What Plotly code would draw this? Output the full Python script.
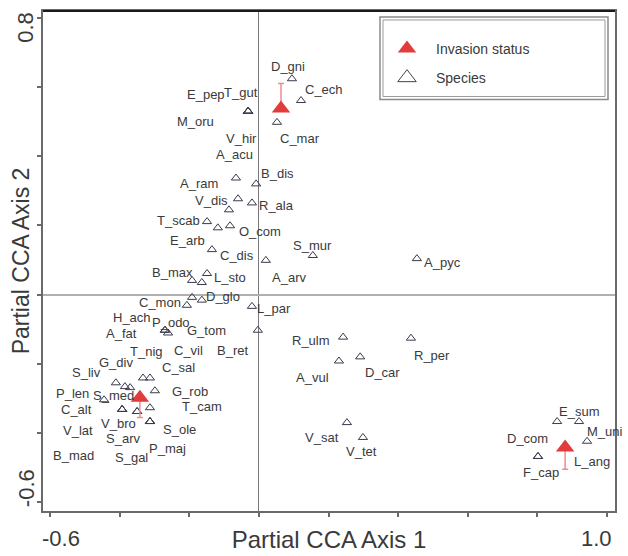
import plotly.graph_objects as go

# ---------------- data ----------------
species = ["D_gni", "C_ech", "T_gut", "E_pep", "M_oru", "C_mar", "V_hir", "A_acu", "B_dis", "A_ram",
           "V_dis", "R_ala", "T_scab", "O_com", "E_arb", "C_dis", "S_mur", "A_arv", "B_max", "L_sto",
           "G_tom", "D_glo", "C_mon", "C_vil", "A_pyc", "L_par", "B_ret", "R_ulm", "R_per", "A_vul",
           "D_car", "V_sat", "V_tet", "P_odo", "H_ach", "A_fat", "T_nig", "C_sal", "G_div", "S_liv",
           "P_len", "S_med", "G_rob", "T_cam", "C_alt", "V_bro", "V_lat", "S_arv", "S_ole", "P_maj",
           "B_mad", "S_gal", "E_sum", "M_uni", "L_ang", "D_com", "F_cap"]
species_x = [0.095, 0.121, -0.031, -0.031, -0.031, 0.052, -0.031, -0.066, -0.008, -0.060,
             -0.086, -0.020, -0.149, -0.083, -0.118, -0.135, 0.155, 0.020, -0.192, -0.149,
             -0.164, -0.164, -0.207, -0.192, 0.454, -0.020, -0.003, 0.242, 0.437, 0.230,
             0.291, 0.253, 0.299, -0.270, -0.261, -0.270, -0.333, -0.313, -0.411, -0.385,
             -0.445, -0.370, -0.299, -0.313, -0.393, -0.350, -0.393, -0.350, -0.313, -0.313,
             -0.393, -0.313, 0.857, 0.920, 0.943, 0.802, 0.802]
species_y = [0.624, 0.561, 0.530, 0.530, 0.530, 0.498, 0.530, 0.337, 0.320, 0.277,
             0.245, 0.265, 0.211, 0.199, 0.193, 0.130, 0.113, 0.099, 0.041, 0.061,
             0.035, -0.016, -0.031, -0.008, 0.104, -0.034, -0.103, -0.123, -0.126, -0.192,
             -0.180, -0.370, -0.413, -0.103, -0.111, -0.103, -0.241, -0.241, -0.255, -0.266,
             -0.304, -0.269, -0.278, -0.327, -0.332, -0.338, -0.332, -0.338, -0.367, -0.367,
             -0.332, -0.367, -0.367, -0.367, -0.424, -0.468, -0.468]

status_x = [0.0635, -0.342, 0.880]
status_y = [0.538, -0.298, -0.442]
status_err_plus = [0.072, 0.0, 0.0]
status_err_minus = [0.0, 0.057, 0.063]

x_ticks = [-0.6, -0.4, -0.2, 0.0, 0.2, 0.4, 0.6, 0.8, 1.0]
y_ticks = [-0.6, -0.4, -0.2, 0.0, 0.2, 0.4, 0.6, 0.8]
x_tick_labels = {-0.6: "-0.6", 1.0: "1.0"}
y_tick_labels = {-0.6: "-0.6", 0.8: "0.8"}

# ---------------- style ----------------
FONT = "Liberation Sans, Arial, sans-serif"
TEXT = "#3a3a3a"
RED = "#e23b3b"
TRI = "#3a3a4c"

# label offsets in pixels (dx right, dy down) relative to each species point
label_offsets = {
    "D_gni": (-4, -12), "C_ech": (23, -11), "T_gut": (-7, -19), "E_pep": (-42, -17),
    "M_oru": (-53, 10), "C_mar": (23, 16), "V_hir": (-7, 27), "A_acu": (-1, -24),
    "B_dis": (21, -10), "A_ram": (-39, -15), "V_dis": (-17, -9), "R_ala": (25, 3),
    "T_scab": (-29, -1), "O_com": (30, 6), "E_arb": (-30, 13), "C_dis": (25, 6),
    "S_mur": (0, -10), "A_arv": (23, 17), "B_max": (-20, -8), "L_sto": (23, 4),
    "G_tom": (5, 48), "D_glo": (21, -4), "C_mon": (-27, -3), "C_vil": (-4, 53),
    "A_pyc": (26, 4), "L_par": (22, 2), "B_ret": (-25, 20), "R_ulm": (-32, 3),
    "R_per": (21, 17), "A_vul": (-26, 16), "D_car": (22, 16), "V_sat": (-25, 15),
    "V_tet": (-1, 14), "P_odo": (6, -8), "H_ach": (-36, -15), "A_fat": (-43, 3),
    "T_nig": (3, -26), "C_sal": (29, -10), "G_div": (0, -20), "S_liv": (-38, -14),
    "P_len": (-32, -6), "S_med": (-17, 8), "G_rob": (35, 1), "T_cam": (52, -1),
    "C_alt": (-46, 0), "V_bro": (-19, 12), "V_lat": (-44, 21), "S_arv": (-14, 27),
    "S_ole": (30, 8), "P_maj": (18, 27), "B_mad": (-49, 46), "S_gal": (-18, 36),
    "E_sum": (22, -10), "M_uni": (26, 10), "L_ang": (5, 20), "D_com": (-10, -18),
    "F_cap": (3, 16),
}

fig = go.Figure()

# species points
fig.add_trace(go.Scatter(
    x=species_x, y=species_y, mode="markers", name="Species", showlegend=False,
    text=species, hoverinfo="text",
    marker=dict(symbol="triangle-up-open", size=8, color=TRI, line=dict(width=1, color=TRI)),
))

# invasion status centroids
fig.add_trace(go.Scatter(
    x=status_x, y=status_y, mode="markers", name="Invasion status",
    legendgroup="a",
    marker=dict(symbol="triangle-up", size=16, color=RED, line=dict(width=0)),
    error_y=dict(type="data", symmetric=False, array=status_err_plus,
                 arrayminus=status_err_minus, color="#f08c8c", thickness=1.5, width=3),
))

# legend proxy for species (bigger symbol in legend)
fig.add_trace(go.Scatter(
    x=[None], y=[None], mode="markers", name="Species", legendgroup="b",
    marker=dict(symbol="triangle-up-open", size=16, color="#444", line=dict(width=1, color="#444")),
))

annotations = []
for name, sx, sy in zip(species, species_x, species_y):
    dx, dy = label_offsets[name]
    annotations.append(dict(
        x=sx, y=sy, xref="x", yref="y", text=name, showarrow=False,
        xshift=dx, yshift=-dy, xanchor="center", yanchor="middle",
        font=dict(family=FONT, size=13, color=TEXT),
    ))

# axis end labels (placed inward like the original)
tick_font = dict(family=FONT, size=22, color=TEXT)
annotations.append(dict(x=-0.6, y=0, xref="x", yref="paper", text=x_tick_labels[-0.6],
                        showarrow=False, xanchor="center", yanchor="middle",
                        xshift=11, yshift=-27, font=tick_font))
annotations.append(dict(x=1.0, y=0, xref="x", yref="paper", text=x_tick_labels[1.0],
                        showarrow=False, xanchor="center", yanchor="middle",
                        xshift=-10, yshift=-27, font=tick_font))
annotations.append(dict(x=0, y=0.8, xref="paper", yref="y", text=y_tick_labels[0.8],
                        showarrow=False, xanchor="center", yanchor="middle", textangle=-90,
                        xshift=-17, yshift=-10, font=tick_font))
annotations.append(dict(x=0, y=-0.6, xref="paper", yref="y", text=y_tick_labels[-0.6],
                        showarrow=False, xanchor="center", yanchor="middle", textangle=-90,
                        xshift=-17, yshift=14, font=tick_font))

axis_common = dict(
    showgrid=False, showline=True, linecolor="#6a6a6a", linewidth=1.5, mirror=True,
    ticks="outside", ticklen=4, tickwidth=1.5, tickcolor="#6a6a6a",
    showticklabels=False, zeroline=True,
)

W, H = 628, 556
ml, mr, mt, mb = 43, 13, 9, 44


def px_x(p):
    return (p - ml) / (W - ml - mr)


def px_y(p):
    return (H - mb - p) / (H - mt - mb)


fig.update_layout(
    width=W, height=H,
    margin=dict(l=ml, r=mr, t=mt, b=mb),
    paper_bgcolor="white", plot_bgcolor="white",
    font=dict(family=FONT, color=TEXT),
    xaxis=dict(range=[-0.6204, 1.0233], tickvals=x_ticks, zerolinecolor="#7a7a7a",
               zerolinewidth=1,
               title=dict(text="Partial CCA Axis 1", font=dict(family=FONT, size=24, color=TEXT),
                          standoff=15),
               **axis_common),
    yaxis=dict(range=[-0.6256, 0.8198], tickvals=y_ticks, zerolinecolor="#b0b0b0",
               zerolinewidth=1.5,
               title=dict(text="Partial CCA Axis 2", font=dict(family=FONT, size=23, color=TEXT),
                          standoff=1),
               **axis_common),
    legend=dict(x=px_x(378), y=px_y(31), xanchor="left", yanchor="top",
                bgcolor="rgba(0,0,0,0)", borderwidth=0, itemwidth=48,
                tracegroupgap=8, font=dict(family=FONT, size=14, color=TEXT)),
    showlegend=True,
    annotations=annotations,
    shapes=[
        dict(type="rect", xref="paper", yref="paper", x0=px_x(380), x1=px_x(608),
             y0=px_y(98), y1=px_y(15), line=dict(color="#8a8a8a", width=1.5)),
        dict(type="rect", xref="paper", yref="paper", x0=px_x(383), x1=px_x(605),
             y0=px_y(95), y1=px_y(18), line=dict(color="#9a9a9a", width=1)),
        dict(type="line", xref="paper", yref="paper", x0=0, x1=1, y0=1, y1=1,
             line=dict(color="#1a1a1a", width=2)),
    ],
)

fig.write_html("out.html")
